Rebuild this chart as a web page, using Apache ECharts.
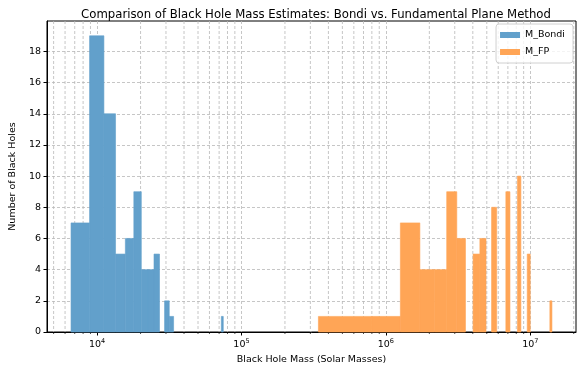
<!DOCTYPE html>
<html>
<head>
<meta charset="utf-8">
<script src="https://cdn.jsdelivr.net/npm/echarts@6/dist/echarts.min.js"></script>
<style>
  html, body { margin: 0; padding: 0; background: #fff; }
  #chart { width: 580px; height: 370px; }
</style>
</head>
<body>
<div id="chart"></div>
<script>
// histogram bins (lower edge, upper edge, count)
const bondiLo = [6600, 8873, 11147, 13420, 15693, 17967, 20240, 22513, 24787, 29333, 31607, 72520];
const bondiHi = [8873, 11147, 13420, 15693, 17967, 20240, 22513, 24787, 27060, 31607, 33880, 74793];
const bondiCount = [7, 19, 14, 5, 6, 9, 4, 4, 5, 2, 1, 1];

const fpLo = [341000, 801000, 1260000, 1720000, 2179000, 2639000, 3099000, 4018000, 4478000, 5397000, 6776000, 8155000, 9533000, 13670000];
const fpHi = [801000, 1260000, 1720000, 2179000, 2639000, 3099000, 3558000, 4478000, 4937000, 5856000, 7235000, 8614000, 9993000, 14130000];
const fpCount = [1, 1, 7, 4, 4, 9, 6, 5, 6, 8, 9, 10, 5, 2];

const xMajor = [1e4, 1e5, 1e6, 1e7];
const yTicks = [0, 2, 4, 6, 8, 10, 12, 14, 16, 18];

const xMin = 4498, xMax = 2.074e7;
const yMax = 19.95;

// minor log ticks 2..9 x 10^n inside the axis range
const xMinor = [];
for (let d = 3; d <= 7; d++) {
    for (let k = 2; k <= 9; k++) {
        const v = k * Math.pow(10, d);
        if (v > xMin && v < xMax) xMinor.push(v);
    }
}

const FONT = 'DejaVu Sans';
const gridColor = '#b8b8b8';

function histItem(color) {
    return function (params, api) {
        const p0 = api.coord([api.value(0), api.value(2)]);
        const p1 = api.coord([api.value(1), 0]);
        return {
            type: 'rect',
            shape: {x: p0[0], y: p0[1], width: p1[0] - p0[0], height: p1[1] - p0[1]},
            style: {fill: color, stroke: color, lineWidth: 0.6}
        };
    };
}

let myChart = echarts.init(document.getElementById('chart'));

let option = {
    animation: false,
    textStyle: {fontFamily: FONT},
    title: {
        text: 'Comparison of Black Hole Mass Estimates: Bondi vs. Fundamental Plane Method',
        left: 311,
        textAlign: 'center',
        top: 4,
        textStyle: {fontFamily: FONT, fontSize: 11.7, fontWeight: 'normal', color: '#000'}
    },
    legend: {
        data: [{name: 'M_Bondi', icon: 'rect'}, {name: 'M_FP', icon: 'rect'}],
        orient: 'vertical',
        right: 7,
        top: 24,
        itemWidth: 20,
        itemHeight: 6,
        itemGap: 7,
        padding: [6, 8, 6, 4],
        borderColor: '#d0d0d0',
        borderWidth: 1,
        borderRadius: 3,
        backgroundColor: 'rgba(255,255,255,0.8)',
        textStyle: {fontFamily: FONT, fontSize: 9.5, color: '#000'}
    },
    grid: {
        left: 46, right: 4, top: 21, bottom: 34,
        show: true, borderColor: '#000', borderWidth: 1,
        containLabel: false
    },
    xAxis: {
        type: 'log',
        min: xMin,
        max: xMax,
        name: 'Black Hole Mass (Solar Masses)',
        nameLocation: 'middle',
        nameGap: 23,
        nameTextStyle: {fontFamily: FONT, fontSize: 9.5, color: '#000'},
        axisLine: {lineStyle: {color: '#000'}},
        axisTick: {customValues: xMajor, length: 3.5, inside: false, lineStyle: {color: '#000'}},
        axisLabel: {
            customValues: xMajor,
            margin: 6,
            color: '#000',
            formatter: v => '10{sup|' + Math.round(Math.log10(v)) + '}',
            rich: {sup: {fontSize: 6.5, padding: [0, 0, 6, 0], color: '#000'}},
            fontSize: 9.5
        },
        splitLine: {show: true, lineStyle: {color: gridColor, type: [3, 2], width: 0.8}}
    },
    yAxis: {
        type: 'value',
        min: 0,
        max: yMax,
        interval: 2,
        name: 'Number of Black Holes',
        nameLocation: 'middle',
        nameGap: 23,
        nameTextStyle: {fontFamily: FONT, fontSize: 9.5, color: '#000'},
        axisLine: {show: true, lineStyle: {color: '#000'}},
        axisTick: {show: true, customValues: yTicks, length: 3.5, lineStyle: {color: '#000'}},
        axisLabel: {customValues: yTicks, margin: 6, fontSize: 9.5, color: '#000'},
        splitLine: {show: true, lineStyle: {color: gridColor, type: [3, 2], width: 0.8}}
    },
    series: [
        {
            name: 'minor-grid',
            type: 'custom',
            silent: true,
            z: 1,
            data: xMinor.map(v => [v, 0]),
            encode: {x: 0, y: 1},
            renderItem: function (params, api) {
                const x = api.coord([api.value(0), 0])[0];
                const cs = params.coordSys;
                return {
                    type: 'group',
                    children: [
                        {
                            type: 'line',
                            shape: {x1: x, y1: cs.y, x2: x, y2: cs.y + cs.height},
                            style: {stroke: gridColor, lineWidth: 0.8, lineDash: [3, 2]}
                        },
                        {
                            type: 'line',
                            shape: {x1: x, y1: cs.y + cs.height, x2: x, y2: cs.y + cs.height + 2},
                            style: {stroke: '#000', lineWidth: 0.7}
                        }
                    ]
                };
            }
        },
        {
            name: 'M_Bondi',
            type: 'custom',
            z: 3,
            itemStyle: {color: '#62a0cb'},
            data: bondiLo.map((lo, i) => [lo, bondiHi[i], bondiCount[i]]),
            encode: {x: [0, 1], y: 2},
            renderItem: histItem('#62a0cb')
        },
        {
            name: 'M_FP',
            type: 'custom',
            z: 3,
            itemStyle: {color: '#ffa556'},
            data: fpLo.map((lo, i) => [lo, fpHi[i], fpCount[i]]),
            encode: {x: [0, 1], y: 2},
            renderItem: histItem('#ffa556')
        }
    ]
};

myChart.setOption(option);
</script>
</body>
</html>
